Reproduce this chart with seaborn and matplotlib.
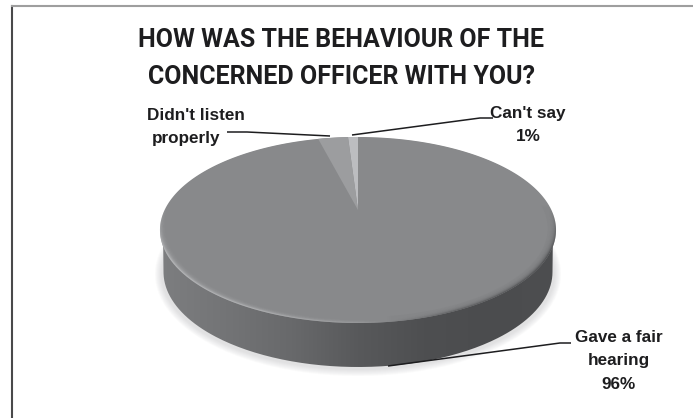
import numpy as np
import matplotlib
matplotlib.use("Agg")
import matplotlib.pyplot as plt
from matplotlib.colors import to_rgb
from matplotlib.patches import PathPatch
from matplotlib.path import Path
import seaborn as sns

# Survey shares
categories = ["Gave a fair\nhearing\n96%", "Didn't listen\nproperly", "Can't say\n1%"]
shares = [96, 3, 1]
slice_colors = ["#88898b", "#9c9d9f", "#bcbdc0"]
title_text = "HOW WAS THE BEHAVIOUR OF THE\nCONCERNED OFFICER WITH YOU?"

sns.set_theme(style="white")
plt.rcParams["font.family"] = ["Liberation Sans", "DejaVu Sans"]

W, H = 693, 418
LEFT, TOP = 12.0, 6.0
fig = plt.figure(figsize=(W / 100, H / 100), dpi=100)
ax = fig.add_axes([LEFT / W, 0, 1 - LEFT / W, 1 - TOP / H])
ax.set_xticks([])
ax.set_yticks([])
sns.despine(ax=ax, top=False, left=False, right=True, bottom=True)
ax.spines["left"].set_color("#49494b")
ax.spines["left"].set_linewidth(1.5)
ax.spines["top"].set_color("#9e9e9e")
ax.spines["top"].set_linewidth(1.5)

# Tilted-disc projection: unit circle coordinates to canvas coordinates
CX, CY = 358.0, 210.0
PERSP = 0.215
SCALE_X, SCALE_Y = 193.4, 88.7


def project(u, v, shrink=1.0):
    """Project disc coordinates, with shrink < 1 giving an inner ring of the rim."""
    u, v = u * shrink, v * shrink
    d = 1 + PERSP * v
    return CX + SCALE_X * u / d, CY - SCALE_Y * v / d


def disc(shrink=1.0, n=360):
    t = np.linspace(0, 2 * np.pi, n)
    return project(np.sin(t), np.cos(t), shrink)


def ellipse(cx, cy, rx, ry, n=361):
    t = np.linspace(0, 2 * np.pi, n)
    return cx + rx * np.cos(t), cy + ry * np.sin(t)


def clip_to(artist, xs, ys):
    patch = PathPatch(Path(np.column_stack([xs, ys])), transform=ax.transData, fc="none", ec="none")
    ax.add_patch(patch)
    artist.set_clip_path(patch)


# Soft drop shadow under the disc
for grow in np.linspace(6, 0, 7):
    x, y = ellipse(358, 274, 197 + grow, 96 + grow)
    ax.fill(x, y, color="#9a9c9f", alpha=0.045, lw=0, zorder=1)

# Side wall: a horizontal gradient clipped to the lower outline
wall_cmap = sns.blend_palette(
    ["#7d7e80", "#737476", "#68696b", "#58595b", "#4e4f51", "#4b4c4e", "#4d4e50"],
    as_cmap=True,
)
wall = ax.imshow(
    np.linspace(0, 1, 256)[None, :],
    cmap=wall_cmap,
    extent=(160, 556, 370, 220),
    aspect="auto",
    zorder=2,
)
low_x, low_y = ellipse(358, 272, 194.5, 95)
clip_to(wall, np.r_[low_x[:181], 163, 553, low_x[0]], np.r_[low_y[:181], 225, 225, low_y[0]])

# Top face, flat colour first
face_x, face_y = disc()
ax.fill(face_x, face_y, color=slice_colors[0], lw=0, zorder=3)

# Rim shading along the front edge: pale on the left, dark on the right
rim_cols = sns.blend_palette(["#b4b5b7", "#aeafb1", "#98999b", "#626365", "#535456"], n_colors=256)
ramp_y = np.clip((np.linspace(130, 330, 200) - 205) / 50, 0, 1)
rim = np.ones((200, 256, 4))
rim[..., :3] = np.array([to_rgb(c) for c in rim_cols])[None, :, :]
rim[..., 3] = ramp_y[:, None]
rim_img = ax.imshow(rim, extent=(160, 556, 330, 130), aspect="auto", zorder=4)
clip_to(rim_img, face_x, face_y)

# The rim melts inwards into the flat slice colour
for shrink in np.linspace(0.995, 0.965, 10):
    x, y = disc(shrink)
    ax.fill(x, y, color=slice_colors[0], alpha=0.28, lw=0, zorder=5)
x, y = disc(0.96)
ax.fill(x, y, color=slice_colors[0], lw=0, zorder=5)

# Smaller slices, laid out anticlockwise from twelve o'clock
end = 0.0
for share, color in list(zip(shares, slice_colors))[:0:-1]:
    start = end - 2 * np.pi * share / sum(shares)
    t = np.linspace(start, end, 30)
    sx, sy = project(np.sin(t), np.cos(t))
    ax.fill(np.r_[CX, sx], np.r_[CY, sy], color=color, lw=0, zorder=6)
    end = start

# Labels and leader lines
label_style = dict(ha="center", va="center", fontsize=12.3, fontweight="bold",
                   color="#1d1d1f", linespacing=1.67, zorder=8)
didnt, properly = categories[1].split("\n")
ax.text(196, 115, didnt, **label_style)
ax.text(186, 139, properly, **label_style)
ax.text(528, 125, categories[2], **label_style)
ax.text(619, 361, categories[0], **label_style)

line_style = dict(color="#1d1d1f", lw=1.1, solid_capstyle="butt", zorder=7)
ax.plot([227, 247, 330], [132, 132, 136], **line_style)
ax.plot([352, 480, 493], [135, 118, 118], **line_style)
ax.plot([388, 560, 571], [366, 343, 343], **line_style)

ax.text(341.5, 58.5, title_text, ha="center", va="center", fontsize=18, fontweight="bold",
        family=["Roboto", "Liberation Sans"], color="#1d1d1f", linespacing=1.72, zorder=8)

ax.set_xlim(LEFT, W)
ax.set_ylim(H, TOP)
fig.savefig("out.png", dpi=100)
